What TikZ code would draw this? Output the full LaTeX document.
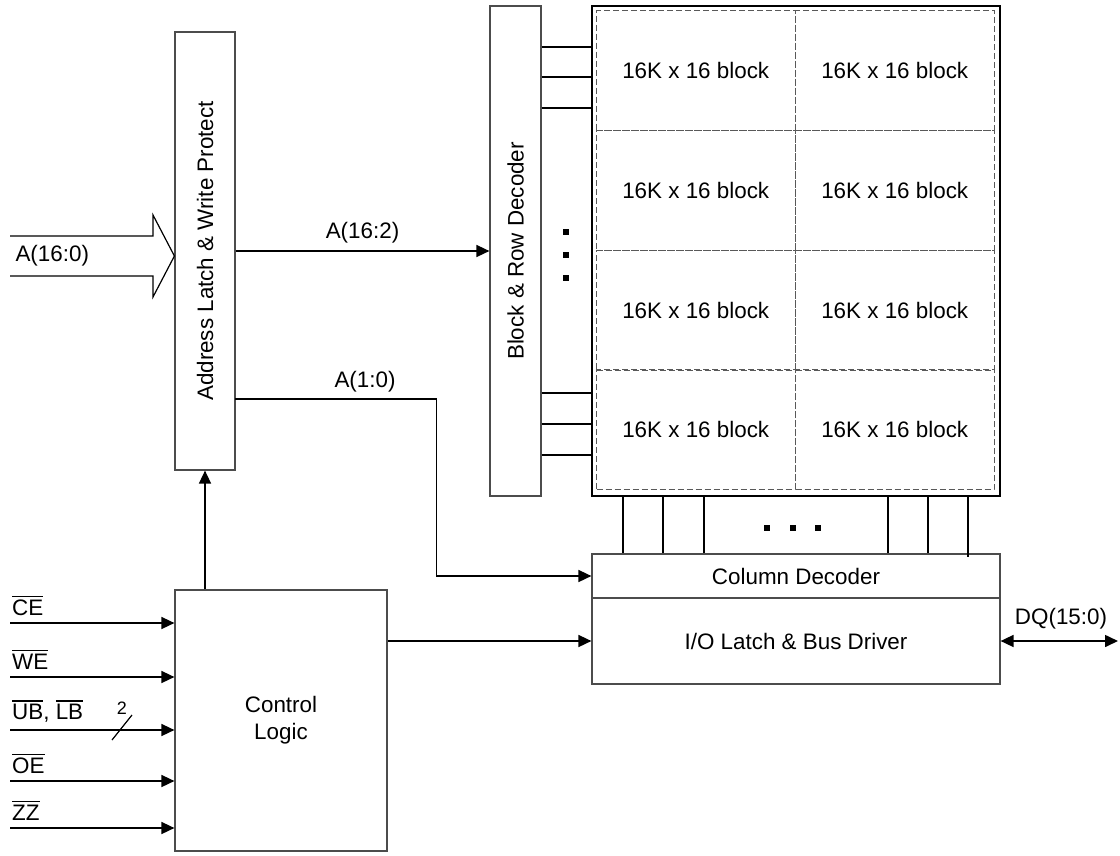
\documentclass[tikz,border=0pt]{standalone}
\usepackage{fontspec}
\setmainfont{Liberation Sans}
\usepackage{tikz}
\usetikzlibrary{arrows.meta,calc}
\tikzstyle{box}=[draw=black!70,line width=1.2pt,inner sep=0pt]
\tikzstyle{cell}=[draw=black!65,dashed,dash pattern=on 6pt off 3pt,line width=1pt,minimum width=198.5pt,minimum height=120pt,inner sep=0pt]
\tikzstyle{sig}=[draw,line width=1.6pt,-{Triangle[length=13pt,width=12pt]}]
\tikzstyle{wire}=[draw,line width=1.6pt]
\tikzstyle{dot}=[fill=black,minimum size=6pt,inner sep=0pt]
\newcommand{\ovl}[1]{{\setbox0\hbox{#1}\rlap{\rule[\dimexpr\ht0+3pt\relax]{\wd0}{1.2pt}}\box0}}

\begin{document}
\begin{tikzpicture}[x=1pt,y=-1pt,font=\fontsize{22.4}{27}\selectfont]
        \useasboundingbox (0,0) rectangle (1120,855);
        % boxes
        \node[box,minimum width=60pt,minimum height=438pt] (latch) at (205,251) {};
        \node[rotate=90] at (latch) {Address Latch \& Write Protect};
        \node[box,minimum width=51pt,minimum height=490pt] (dec) at (515.5,251) {};
        \node[rotate=90] at (dec) {Block \& Row Decoder};
        \node[draw,line width=2pt,minimum width=408pt,minimum height=490pt,inner sep=0pt] (array) at (796,251) {};
        \foreach \r in {0,...,3}
          \foreach \c in {0,1}
            \node[cell] (cell\r\c) at (695.75+\c*199,70.5+\r*119.75) {16K x 16 block};
        \node[box,minimum width=408pt,minimum height=44pt] (coldec) at (796,576) {Column Decoder};
        \node[box,minimum width=408pt,minimum height=86pt] (iolatch) at (796,641) {I/O Latch \& Bus Driver};
        \node[box,minimum width=212pt,minimum height=261pt,align=center] (ctrl) at (281,720.5) {Control\\Logic};
        % address input
        \draw[line width=1.2pt] (10,236) -- (153,236) -- (153,215) -- (latch.west |- 0,256)
          -- (153,297) -- (153,276) -- (10,276);
        \node[anchor=west] at (12,256) {A(16:0)};
        % row decoder lines
        \foreach \y in {47,77,108,393,424,455}
          \draw[wire] (dec.east |- 0,\y) -- (array.west |- 0,\y);
        \foreach \y in {232,255,278}
          \node[dot] at (566,\y) {};
        % column lines
        \foreach \x in {623,663,704,888,928}
          \draw[wire] (array.south -| \x,0) -- (coldec.north -| \x,0);
        \draw[wire] (array.south -| 968,0) -- (968,557);
        \foreach \x in {767,793,818}
          \node[dot] at (\x,528) {};
        % address buses
        \draw[sig] (latch.east) -- node[above=4pt] {A(16:2)} (dec.west);
        \coordinate (a10) at (235,399);
        \draw[sig] (a10) -| ($(coldec.west)+(-155,0)$) -- (coldec.west);
        \node at (365,382) {A(1:0)};
        % control
        \draw[sig] (ctrl.north -| latch) -- (latch.south);
        \draw[sig] (ctrl.east |- iolatch.west) -- (iolatch.west);
        \coordinate (dq) at (1118,641);
        \draw[sig,{Triangle[length=13pt,width=12pt]}-{Triangle[length=13pt,width=12pt]}] (iolatch.east) -- (dq);
        \node at (1061,619) {DQ(15:0)};
        % control inputs
        \foreach \y/\t in {623/\ovl{CE},677/\ovl{WE},730/{\ovl{UB}, \ovl{LB}},781/\ovl{OE},828/\ovl{ZZ}}
          {
          \coordinate (in\y) at (10,\y);
          \draw[sig] (in\y) -- (ctrl.west |- in\y);
          \node[anchor=south west,inner sep=2pt] at (10,\y-5) {\t};
          }
        \draw[line width=1.2pt] (112,740) -- (132,715);
        \node[font=\fontsize{18}{20}\selectfont] at (122,708) {2};
      \end{tikzpicture}
\end{document}
